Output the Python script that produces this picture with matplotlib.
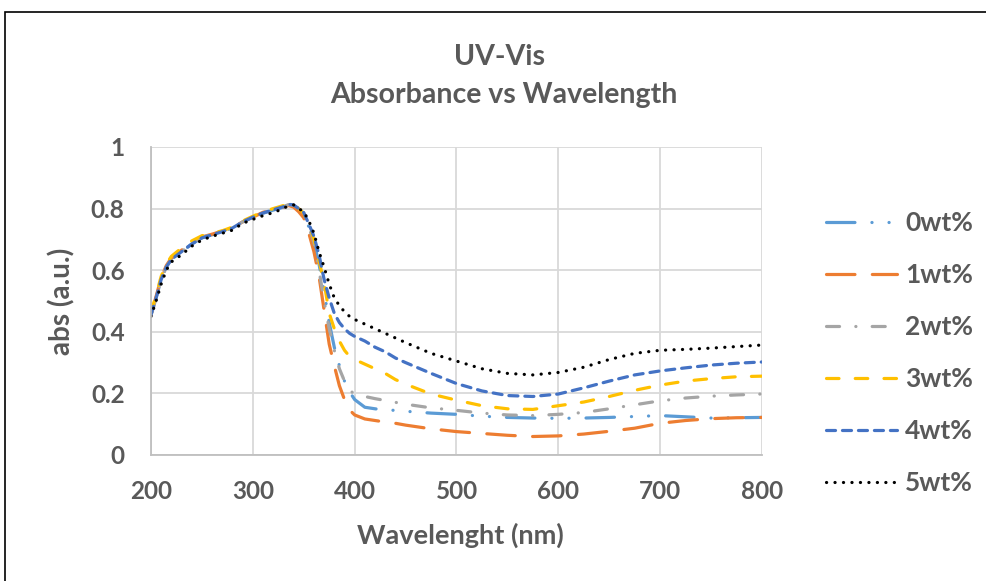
import matplotlib
matplotlib.use("Agg")
import matplotlib.pyplot as plt
from matplotlib.patches import Rectangle

plt.rcParams['font.family'] = ['Lato', 'DejaVu Sans']
plt.rcParams['lines.scale_dashes'] = False

wavelength = [200, 205, 210, 215, 220, 230, 240, 250, 260, 270, 280, 290, 300, 310, 320,
              330, 335, 340, 345, 350, 355, 360, 365, 370, 375, 380, 385, 390, 395, 400,
              410, 420, 430, 440, 450, 475, 500, 525, 550, 575, 600, 625, 650, 675, 700,
              725, 750, 775, 800]

abs_0wt = [0.455, 0.51, 0.57, 0.61, 0.635, 0.66, 0.685, 0.705, 0.715, 0.725, 0.738, 0.758, 0.772, 0.785, 0.795,
           0.805, 0.812, 0.812, 0.80, 0.785, 0.74, 0.69, 0.62, 0.53, 0.43, 0.35, 0.29, 0.24, 0.205, 0.18,
           0.155, 0.15, 0.146, 0.145, 0.142, 0.136, 0.132, 0.126, 0.122, 0.12, 0.119, 0.12, 0.122, 0.125, 0.128,
           0.124, 0.12, 0.121, 0.122]
abs_1wt = [0.455, 0.515, 0.575, 0.615, 0.64, 0.665, 0.69, 0.708, 0.717, 0.727, 0.738, 0.757, 0.772, 0.788, 0.797,
           0.805, 0.81, 0.805, 0.79, 0.77, 0.72, 0.66, 0.58, 0.47, 0.36, 0.29, 0.225, 0.18, 0.146, 0.13,
           0.117, 0.112, 0.107, 0.103, 0.097, 0.085, 0.076, 0.07, 0.064, 0.06, 0.062, 0.068, 0.077, 0.087, 0.103,
           0.112, 0.118, 0.121, 0.122]
abs_2wt = [0.455, 0.51, 0.57, 0.61, 0.635, 0.66, 0.687, 0.706, 0.716, 0.726, 0.737, 0.757, 0.772, 0.786, 0.796,
           0.806, 0.813, 0.81, 0.80, 0.785, 0.74, 0.69, 0.60, 0.50, 0.41, 0.34, 0.28, 0.24, 0.21, 0.198,
           0.19, 0.183, 0.177, 0.171, 0.165, 0.153, 0.145, 0.136, 0.13, 0.128, 0.132, 0.138, 0.15, 0.163, 0.176,
           0.185, 0.191, 0.195, 0.198]
abs_3wt = [0.46, 0.52, 0.58, 0.62, 0.645, 0.672, 0.695, 0.712, 0.72, 0.728, 0.74, 0.76, 0.775, 0.79, 0.80,
           0.81, 0.818, 0.815, 0.80, 0.785, 0.75, 0.70, 0.63, 0.56, 0.46, 0.41, 0.37, 0.34, 0.32, 0.31,
           0.295, 0.28, 0.265, 0.245, 0.23, 0.198, 0.178, 0.16, 0.15, 0.148, 0.16, 0.172, 0.19, 0.21, 0.227,
           0.24, 0.248, 0.254, 0.256]
abs_4wt = [0.455, 0.51, 0.57, 0.61, 0.635, 0.66, 0.685, 0.705, 0.715, 0.725, 0.737, 0.757, 0.772, 0.786, 0.796,
           0.806, 0.814, 0.812, 0.80, 0.787, 0.75, 0.71, 0.65, 0.57, 0.51, 0.46, 0.43, 0.41, 0.395, 0.385,
           0.37, 0.35, 0.335, 0.315, 0.30, 0.265, 0.232, 0.208, 0.193, 0.19, 0.198, 0.218, 0.24, 0.26, 0.273,
           0.283, 0.292, 0.298, 0.302]
abs_5wt = [0.45, 0.50, 0.555, 0.60, 0.627, 0.65, 0.678, 0.698, 0.71, 0.72, 0.73, 0.752, 0.765, 0.777, 0.787,
           0.80, 0.81, 0.812, 0.80, 0.79, 0.76, 0.72, 0.66, 0.61, 0.555, 0.51, 0.485, 0.465, 0.45, 0.44,
           0.425, 0.41, 0.395, 0.38, 0.365, 0.33, 0.305, 0.28, 0.265, 0.26, 0.268, 0.285, 0.31, 0.33, 0.34,
           0.343, 0.347, 0.352, 0.357]

series_labels = ['0wt%', '1wt%', '2wt%', '3wt%', '4wt%', '5wt%']
series_values = [abs_0wt, abs_1wt, abs_2wt, abs_3wt, abs_4wt, abs_5wt]
colors = ['#5B9BD5', '#ED7D31', '#A5A5A5', '#FFC000', '#4472C4', '#000000']
dashes = [(0, (20.5, 12.2, 0.1, 12.2, 0.1, 12.2)),
          (0, (20.5, 12.5)),
          (0, (9.4, 11.7, 0.1, 11.7)),
          (0, (9.0, 11.7)),
          (0, (6.5, 5.0)),
          (0, (0.1, 6.0))]

x_ticks = [200, 300, 400, 500, 600, 700, 800]
y_ticks = [0, 0.2, 0.4, 0.6, 0.8, 1]
y_tick_labels = ['0', '0.2', '0.4', '0.6', '0.8', '1']

text_color = '#595959'
W, H = 986, 581
fig = plt.figure(figsize=(9.86, 5.81), dpi=100)
ax = fig.add_axes([151/W, 1 - 455/H, (762 - 151)/W, (455 - 147)/H])

for vals, lab, col, ls in zip(series_values, series_labels, colors, dashes):
    ax.plot(wavelength, vals, color=col, lw=2.3, linestyle=ls, label=lab,
            dash_capstyle='round', solid_capstyle='round')

ax.set_xlim(200, 800)
ax.set_ylim(0, 1)
ax.set_xticks(x_ticks)
ax.set_yticks(y_ticks)
ax.set_yticklabels(y_tick_labels)
ax.grid(True, color='#d9d9d9', lw=1.3)
ax.set_axisbelow(True)
for s in ['top', 'right']:
    ax.spines[s].set_visible(False)
for s in ['left', 'bottom']:
    ax.spines[s].set_color('#bfbfbf')
    ax.spines[s].set_linewidth(1.3)
ax.tick_params(axis='x', length=0, labelsize=17.5, labelcolor=text_color, pad=18)
ax.tick_params(axis='y', length=0, labelsize=17.5, labelcolor=text_color, pad=19)
for t in ax.get_xticklabels() + ax.get_yticklabels():
    t.set_fontweight('bold')

fig.text(460/W, 1 - 535/H, 'Wavelenght (nm)', ha='center', va='center', fontsize=19.5,
         fontweight='bold', color=text_color)
fig.text(62/W, 1 - 301/H, 'abs (a.u.)', ha='center', va='center', rotation=90, fontsize=20,
         fontweight='bold', color=text_color)

fig.text(500/W, 1 - 57/H, 'UV-Vis', ha='center', va='center', fontsize=20.5,
         fontweight='bold', color=text_color)
fig.text(504/W, 1 - 95/H, 'Absorbance vs Wavelength', ha='center', va='center', fontsize=20.5,
         fontweight='bold', color=text_color)

leg = ax.legend(loc='upper left', bbox_to_anchor=(826/W, 1 - 211/H),
                bbox_transform=fig.transFigure, frameon=False,
                prop={'family': 'Lato', 'weight': 'bold', 'size': 19},
                handlelength=2.7, handletextpad=0.3, labelspacing=1.06,
                borderpad=0, borderaxespad=0)
for t in leg.get_texts():
    t.set_color(text_color)

fig.patches.append(Rectangle((5/W, -0.05), 1.2, 1 - 12/H + 0.05, transform=fig.transFigure,
                             fill=False, edgecolor='black', lw=1.2, figure=fig))

fig.savefig('out.png', dpi=100)
